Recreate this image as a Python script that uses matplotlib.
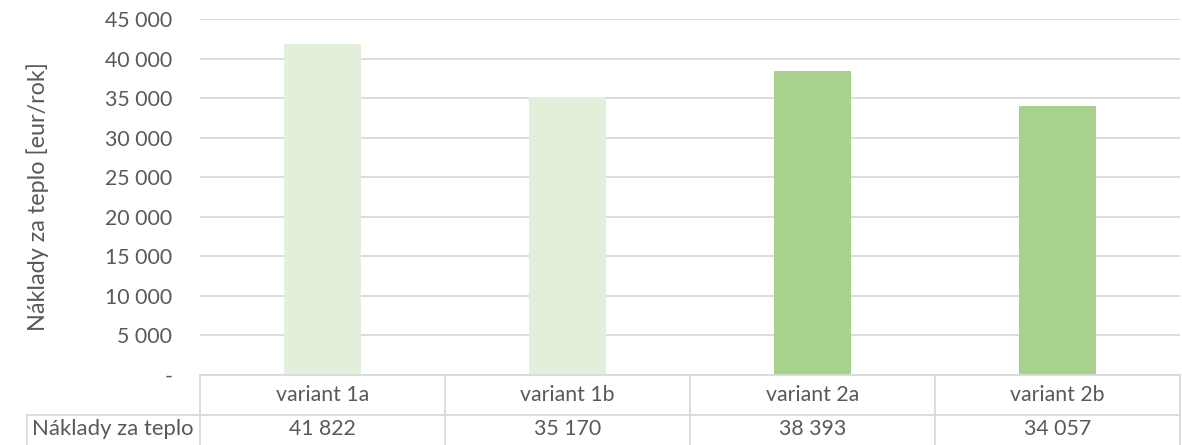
import matplotlib
matplotlib.use("Agg")
import matplotlib.pyplot as plt
from matplotlib.lines import Line2D
import matplotlib.transforms as mtransforms

# dados do gráfico
kategorie = ["variant 1a", "variant 1b", "variant 2a", "variant 2b"]
naklady = [41822, 35170, 38393, 34057]
farby = ["#E2EFDA", "#E2EFDA", "#A9D18E", "#A9D18E"]
yticks = [0, 5000, 10000, 15000, 20000, 25000, 30000, 35000, 40000, 45000]
nazov_radu = "Náklady za teplo"
ylabel = "Náklady za teplo [eur/rok]"

plt.rcParams["font.family"] = ["Lato", "DejaVu Sans"]
txt = "#595959"
mriezka = "#D9D9D9"
fs = 15.3

W, H = 1182, 445
fig = plt.figure(figsize=(W / 100, H / 100), dpi=100)
ax = fig.add_axes([200 / W, (H - 375) / H, 980 / W, (375 - 19) / H])

x = list(range(len(kategorie)))
ax.bar(x, naklady, width=0.315, color=farby, zorder=2)

ax.set_xlim(-0.5, len(kategorie) - 0.5)
ax.set_ylim(0, 45000)
ax.set_yticks(yticks)
ax.set_yticklabels(["-"] + [f"{v:,}".replace(",", " ") for v in yticks[1:]])
ax.tick_params(axis="y", length=0, pad=20, labelsize=fs, labelcolor=txt)
ax.tick_params(axis="x", length=0, labelbottom=False)
ax.grid(axis="y", color=mriezka, linewidth=1.3, zorder=0)
for s in ax.spines.values():
    s.set_visible(False)
ax.set_ylabel(ylabel, fontsize=16.8, color=txt, labelpad=40)

# tabuľka s údajmi pod grafom
ah = 356.0
r1 = -40 / ah
r2 = -72 / ah
tr = mtransforms.blended_transform_factory(ax.transData, ax.transAxes)
x_left = (27 - 200) / 245 - 0.5
n = len(kategorie)
lk = dict(color=mriezka, linewidth=1.3, transform=tr, clip_on=False)
ax.add_line(Line2D([-0.5, n - 0.5], [0, 0], **lk))
ax.add_line(Line2D([x_left, n - 0.5], [r1, r1], **lk))
ax.add_line(Line2D([x_left, n - 0.5], [r2, r2], **lk))
ax.add_line(Line2D([x_left, x_left], [r1, r2], **lk))
for i in range(n + 1):
    ax.add_line(Line2D([i - 0.5, i - 0.5], [0, r2], **lk))
for i, (k, v) in enumerate(zip(kategorie, naklady)):
    ax.text(i, r1 / 2, k, transform=tr, ha="center", va="center", fontsize=fs, color=txt)
    ax.text(i, r1 + (r2 - r1) * 0.45, f"{v:,}".replace(",", " "), transform=tr,
            ha="center", va="center", fontsize=fs, color=txt)
ax.text(x_left + 0.02, r1 + (r2 - r1) * 0.45, nazov_radu, transform=tr,
        ha="left", va="center", fontsize=15.9, color=txt)

fig.savefig("out.png", dpi=100)
